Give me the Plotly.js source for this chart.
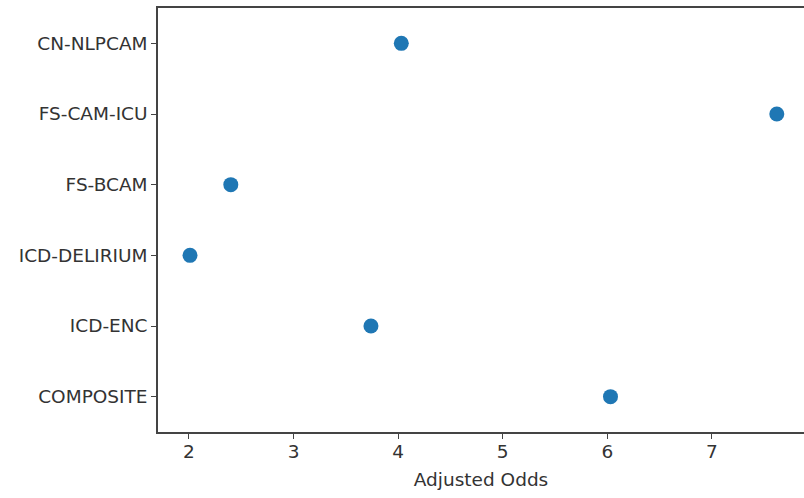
<!DOCTYPE html>
<html>
<head>
<meta charset="utf-8">
<script src="https://cdn.plot.ly/plotly-3.0.1.min.js"></script>
<style>html,body{margin:0;padding:0;background:#fff;}#chart{width:804px;height:498px;}</style>
</head>
<body>
<div id="chart"></div>
<script>
const categories = ["COMPOSITE", "ICD-ENC", "ICD-DELIRIUM", "FS-BCAM", "FS-CAM-ICU", "CN-NLPCAM"];
const adjustedOdds = [6.03, 3.74, 2.01, 2.40, 7.62, 4.03];
const xTicks = [2, 3, 4, 5, 6, 7];

const font = {family: "'DejaVu Sans', sans-serif", size: 18.5, color: "#333"};

Plotly.newPlot("chart", [{
  type: "scatter",
  mode: "markers",
  x: adjustedOdds,
  y: categories,
  marker: {color: "#1f77b4", size: 15}
}], {
  width: 804, height: 498,
  margin: {l: 158, r: 0, t: 8, b: 66},
  paper_bgcolor: "#fff", plot_bgcolor: "#fff",
  showlegend: false,
  font: font,
  xaxis: {
    range: [1.704, 7.88],
    tickvals: xTicks,
    ticktext: xTicks.map(String),
    showgrid: false, zeroline: false,
    showline: true, linecolor: "#444", linewidth: 1.5, mirror: true,
    ticks: "outside", ticklen: 5, tickcolor: "#444",
    ticklabelstandoff: -3,
    title: {text: "Adjusted Odds", font: font, standoff: 12}
  },
  yaxis: {
    type: "category",
    categoryarray: categories,
    range: [-0.5, 5.5],
    showgrid: false, zeroline: false,
    showline: true, linecolor: "#444", linewidth: 1.5,
    ticks: "outside", ticklen: 5, tickcolor: "#444"
  }
}, {displayModeBar: false});
</script>
</body>
</html>
